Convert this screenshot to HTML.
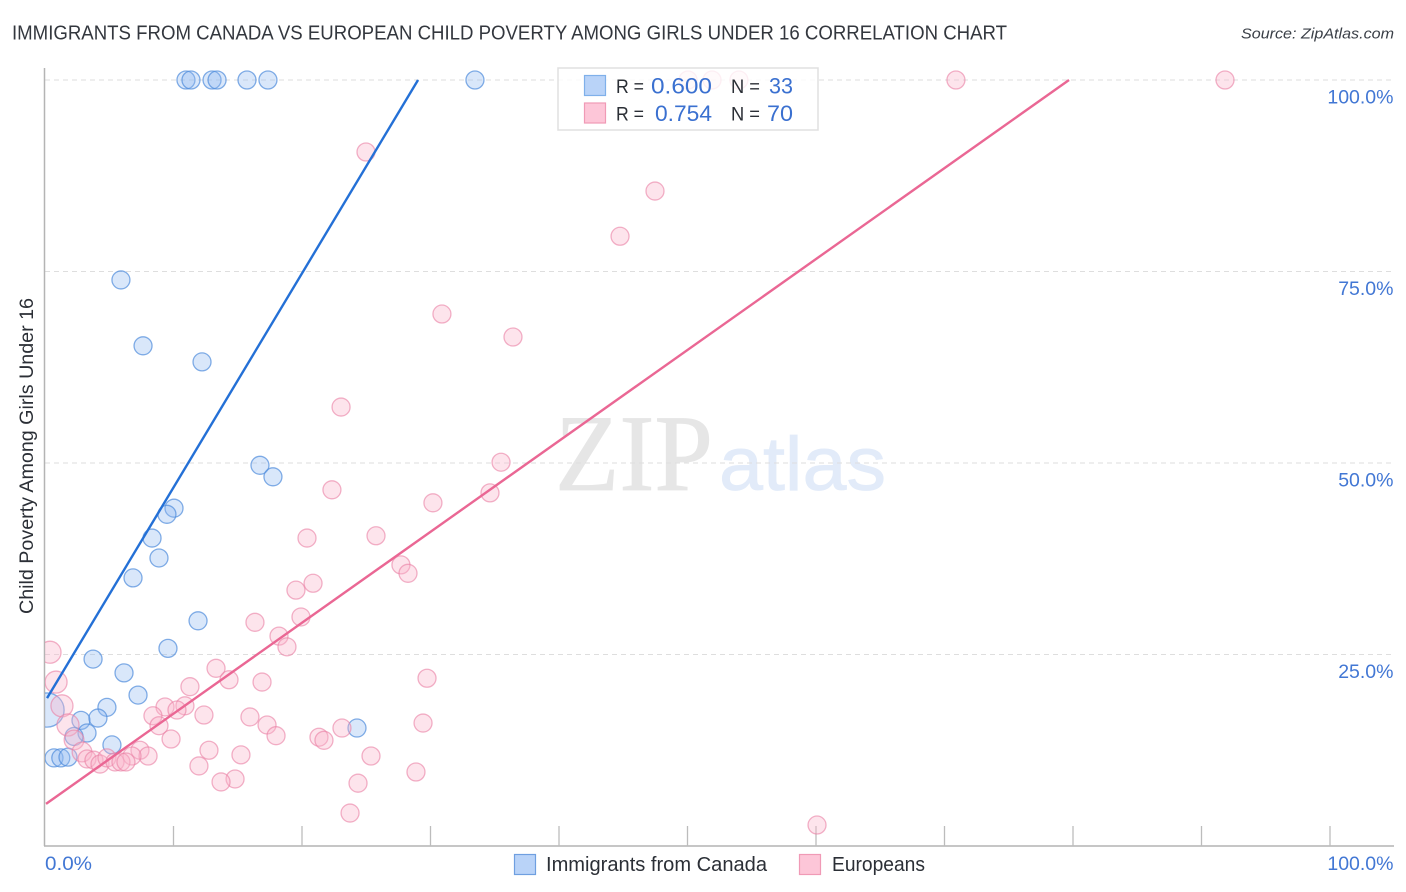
<!DOCTYPE html>
<html lang="en">
<head>
<meta charset="utf-8">
<title>Immigrants from Canada vs European Child Poverty Among Girls Under 16 Correlation Chart</title>
<style>
html,body{margin:0;padding:0;background:#fff;}
svg{display:block;font-family:"Liberation Sans",sans-serif;}
</style>
</head>
<body>
<svg id="chart" xmlns="http://www.w3.org/2000/svg" width="1406" height="892" viewBox="0 0 1406 892">
  <defs>
    <clipPath id="plot-clip"><rect x="45" y="60" width="1360" height="786"/></clipPath>
  </defs>
  <text x="12" y="39.5" font-size="20" fill="#33373e" textLength="995" lengthAdjust="spacingAndGlyphs">IMMIGRANTS FROM CANADA VS EUROPEAN CHILD POVERTY AMONG GIRLS UNDER 16 CORRELATION CHART</text>
  <text x="1394" y="38.5" font-size="15" font-style="italic" fill="#3a3f47" text-anchor="end" textLength="153" lengthAdjust="spacingAndGlyphs">Source: ZipAtlas.com</text>
  <g>
    <text x="555" y="490" font-family="'Liberation Serif',serif" font-size="109" fill="#e6e6e6" stroke="#e6e6e6" stroke-width="0.8" textLength="158" lengthAdjust="spacingAndGlyphs">ZIP</text>
    <text x="719" y="490" font-size="76" fill="#e2ebf9" stroke="#e2ebf9" stroke-width="0.8" textLength="167" lengthAdjust="spacingAndGlyphs">atlas</text>
  </g>
  <g id="grid"></g>
  <g id="axes"></g>
  <g id="blue-points" clip-path="url(#plot-clip)"></g>
  <g id="pink-points" clip-path="url(#plot-clip)"></g>
  <g id="trends"></g>
  <g>
    <rect x="558" y="68" width="260" height="62" fill="#fff" fill-opacity="0.8" stroke="#e0e0e0" stroke-width="1.5"/>
    <rect x="584.5" y="75.5" width="21" height="20" fill="#b9d3f8" stroke="#7fb0ea" stroke-width="1.2"/>
    <rect x="584.5" y="103" width="21" height="20" fill="#fdc6d8" stroke="#f09ab6" stroke-width="1.2"/>
    <text x="616" y="93" font-size="19.5" fill="#2b2f36" textLength="28" lengthAdjust="spacingAndGlyphs">R =</text>
    <text x="651" y="93.5" font-size="22" fill="#3a70d0" textLength="61" lengthAdjust="spacingAndGlyphs">0.600</text>
    <text x="731" y="93" font-size="19.5" fill="#2b2f36" textLength="29" lengthAdjust="spacingAndGlyphs">N =</text>
    <text x="769" y="93.5" font-size="22" fill="#3a70d0" textLength="24" lengthAdjust="spacingAndGlyphs">33</text>
    <text x="616" y="120.5" font-size="19.5" fill="#2b2f36" textLength="28" lengthAdjust="spacingAndGlyphs">R =</text>
    <text x="655" y="121" font-size="22" fill="#3a70d0" textLength="57" lengthAdjust="spacingAndGlyphs">0.754</text>
    <text x="731" y="120.5" font-size="19.5" fill="#2b2f36" textLength="29" lengthAdjust="spacingAndGlyphs">N =</text>
    <text x="767" y="121" font-size="22" fill="#3a70d0" textLength="26" lengthAdjust="spacingAndGlyphs">70</text>
  </g>
  <text transform="translate(33,456) rotate(-90)" font-size="19" fill="#2b2f36" text-anchor="middle" textLength="316" lengthAdjust="spacingAndGlyphs">Child Poverty Among Girls Under 16</text>
  <g>
    <rect x="514.5" y="854.5" width="21" height="20" fill="#b9d3f8" stroke="#6f9fe0" stroke-width="1.2"/>
    <text x="546" y="871" font-size="20" fill="#2b2f36" textLength="221" lengthAdjust="spacingAndGlyphs">Immigrants from Canada</text>
    <rect x="799.5" y="854.5" width="21" height="20" fill="#fdc6d8" stroke="#f09ab6" stroke-width="1.2"/>
    <text x="832" y="871" font-size="20" fill="#2b2f36" textLength="93" lengthAdjust="spacingAndGlyphs">Europeans</text>
  </g>
</svg>
<script>
const xTickValues = [0, 10, 20, 30, 40, 50, 60, 70, 80, 90, 100];
const yTickValues = [25, 50, 75, 100];
const xTickLabels = ["0.0%", "100.0%"];
const yTickLabels = ["25.0%", "50.0%", "75.0%", "100.0%"];

const blueX = [10.97, 11.36, 13.0, 13.39, 15.72, 17.35, 33.46, 5.91, 7.63, 12.22, 16.73, 17.74, 10.04, 9.49, 8.33, 8.87, 6.85, 11.91, 9.57, 3.74, 6.15, 7.24, 4.82, 2.8, 4.12, 3.27, 2.26, 5.21, 24.28, 0.7, 1.23, 1.79, 0.16];
const blueY = [100, 100, 100, 100, 100, 100, 100, 73.9, 65.3, 63.2, 49.7, 48.2, 44.1, 43.3, 40.2, 37.6, 35.0, 29.4, 25.8, 24.4, 22.6, 19.7, 18.1, 16.4, 16.7, 14.75, 14.3, 13.2, 15.4, 11.5, 11.5, 11.6, 17.75];
const blueWeight = [1, 1, 1, 1, 1, 1, 1, 1, 1, 1, 1, 1, 1, 1, 1, 1, 1, 1, 1, 1, 1, 1, 1, 1, 1, 1, 1, 1, 1, 1, 1, 1, 3.6];

const pinkX = [24.98, 47.47, 44.75, 30.89, 36.42, 23.04, 35.49, 22.33, 34.63, 30.19, 20.39, 25.76, 27.7, 28.25, 20.86, 19.53, 19.92, 16.34, 18.21, 18.83, 13.31, 14.32, 16.89, 11.28, 29.73, 9.34, 10.89, 10.27, 8.4, 12.37, 15.95, 29.42, 8.87, 17.28, 17.98, 21.32, 21.71, 23.11, 9.81, 12.76, 15.25, 25.37, 7.39, 8.02, 6.77, 11.98, 28.87, 14.79, 13.7, 24.36, 23.74, 60.08, 50.04, 51.91, 54.0, 70.89, 91.83, 0.39, 0.86, 1.32, 1.79, 2.26, 2.88, 3.27, 3.81, 4.28, 4.82, 5.45, 5.91, 6.3];
const pinkY = [90.6, 85.5, 79.6, 69.45, 66.45, 57.3, 50.1, 46.5, 46.1, 44.8, 40.2, 40.5, 36.7, 35.6, 34.3, 33.4, 29.9, 29.2, 27.4, 26.0, 23.2, 21.7, 21.4, 20.8, 21.9, 18.15, 18.3, 17.75, 17.0, 17.1, 16.85, 16.05, 15.7, 15.8, 14.4, 14.2, 13.8, 15.4, 13.97, 12.5, 11.9, 11.75, 12.5, 11.75, 11.75, 10.45, 9.66, 8.75, 8.36, 8.2, 4.3, 2.74, 100, 100, 100, 100, 100, 25.3, 21.4, 18.3, 15.8, 13.84, 12.27, 11.36, 11.2, 10.7, 11.5, 10.97, 10.97, 10.97];
const pinkWeight = [1, 1, 1, 1, 1, 1, 1, 1, 1, 1, 1, 1, 1, 1, 1, 1, 1, 1, 1, 1, 1, 1, 1, 1, 1, 1, 1, 1, 1, 1, 1, 1, 1, 1, 1, 1, 1, 1, 1, 1, 1, 1, 1, 1, 1, 1, 1, 1, 1, 1, 1, 1, 1, 1, 1, 1, 1, 1.5, 1.5, 1.5, 1.5, 1.2, 1.2, 1, 1, 1, 1, 1, 1, 1];

const blueTrendX = [0.16, 29.03];
const blueTrendY = [19.3, 100];
const pinkTrendX = [0.08, 79.69];
const pinkTrendY = [5.5, 100];

const SVGNS = "http://www.w3.org/2000/svg";
const plotLeft = 45, plotRight = 1330, plotBottom = 846, plotTop = 80;
function xScale(v) { return plotLeft + (plotRight - plotLeft) * v / 100; }
function yScale(v) { return plotBottom - (plotBottom - plotTop) * v / 100; }
function rScale(w) { return 9 * Math.sqrt(w); }
function make(tag, parent, attrs) {
  const el = document.createElementNS(SVGNS, tag);
  for (const k in attrs) el.setAttribute(k, attrs[k]);
  parent.appendChild(el);
  return el;
}

const grid = document.getElementById("grid");
const axes = document.getElementById("axes");

yTickValues.forEach(function (v, i) {
  const line = make("line", grid, { x1: plotLeft, x2: 1394, y1: yScale(v), y2: yScale(v), stroke: "#dedede", "stroke-width": 1, "stroke-dasharray": "5 4" });
  
  
  const label = make("text", axes, { x: 1393.5, y: yScale(v) + 23.5, "font-size": 19.5, fill: "#4277d4", "text-anchor": "end" });
  
  
  label.textContent = yTickLabels[i];
});

const yAxis = make("line", axes, { x1: 44.5, x2: 44.5, y1: 68, y2: 846, stroke: "#b4b4b4", "stroke-width": 1.5 });


const xAxis = make("line", axes, { x1: 44, x2: 1394, y1: 846, y2: 846, stroke: "#b4b4b4", "stroke-width": 1.5 });



xTickValues.slice(1).forEach(function (v) {
  const tick = make("line", axes, { x1: xScale(v), x2: xScale(v), y1: 826, y2: 846, stroke: "#bcbcbc", "stroke-width": 1.3 });
  
  
});

const xLabelLeft = make("text", axes, { x: 45, y: 870, "font-size": 19.5, fill: "#4277d4", textLength: 47, lengthAdjust: "spacingAndGlyphs" });


xLabelLeft.textContent = xTickLabels[0];
const xLabelRight = make("text", axes, { x: 1393.5, y: 870, "font-size": 19.5, fill: "#4277d4", "text-anchor": "end" });


xLabelRight.textContent = xTickLabels[1];

const bluePoints = document.getElementById("blue-points");
blueX.forEach(function (v, i) {
  const c = make("circle", bluePoints, { cx: xScale(v), cy: yScale(blueY[i]), r: rScale(blueWeight[i]), fill: "#8fb8f0", "fill-opacity": 0.34, stroke: "#4f8cdc", "stroke-opacity": 0.7, "stroke-width": 1.3 });
  
  
});

const pinkPoints = document.getElementById("pink-points");
pinkX.forEach(function (v, i) {
  const c = make("circle", pinkPoints, { cx: xScale(v), cy: yScale(pinkY[i]), r: rScale(pinkWeight[i]), fill: "#f9b4ca", "fill-opacity": 0.36, stroke: "#ea7fa3", "stroke-opacity": 0.6, "stroke-width": 1.3 });
  
  
});

const trends = document.getElementById("trends");
const blueTrend = make("line", trends, { x1: xScale(blueTrendX[0]), y1: yScale(blueTrendY[0]), x2: xScale(blueTrendX[1]), y2: yScale(blueTrendY[1]), stroke: "#2470d6", "stroke-width": 2.4 });


const pinkTrend = make("line", trends, { x1: xScale(pinkTrendX[0]), y1: yScale(pinkTrendY[0]), x2: xScale(pinkTrendX[1]), y2: yScale(pinkTrendY[1]), stroke: "#ea6794", "stroke-width": 2.4 });


</script>
</body>
</html>
